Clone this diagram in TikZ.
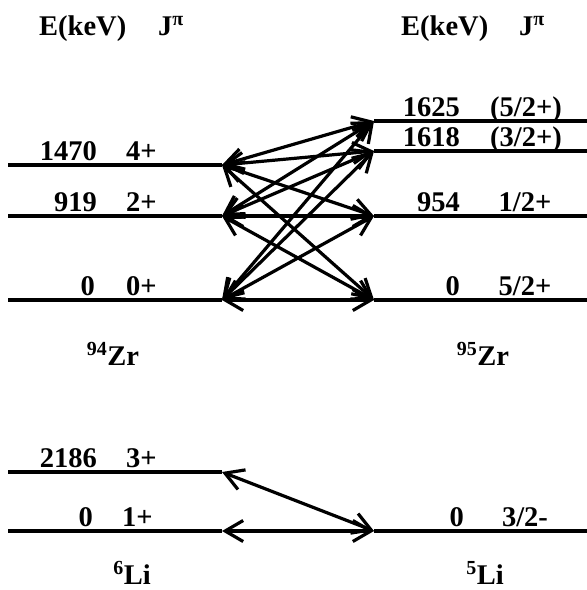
\documentclass[tikz,border=0pt]{standalone}
\usepackage{fontspec}
\setmainfont{Liberation Serif}
\usepackage{tikz}
\usetikzlibrary{arrows.meta}

\begin{document}
\begin{tikzpicture}[
    x=1pt, y=-1pt,
    font=\fontsize{28.5}{32}\selectfont\bfseries,
    garis/.style={line width=3.4pt},
    transisi/.style={{Straight Barb[length=18pt,width=21pt]}-{Straight Barb[length=18pt,width=21pt]},
                     line width=3.2pt},
    energi/.style={anchor=base east, inner sep=0pt},
    spin/.style={anchor=base west, inner sep=0pt},
    spinr/.style={anchor=base, inner sep=0pt},
    inti/.style={anchor=base, inner sep=0pt}
  ]
    \useasboundingbox (0,0) rectangle (587,590);
    % judul kolom
    \node[anchor=base west, inner sep=0pt] (judulE) at (39,35) {E(keV)};
    \node[anchor=base west, inner sep=0pt] (judulJ) at (158,35) {J\textsuperscript{π}};
    \node[anchor=base west, inner sep=0pt] (judulE2) at (401,35) {E(keV)};
    \node[anchor=base west, inner sep=0pt] (judulJ2) at (519,35) {J\textsuperscript{π}};
    % tingkat 94Zr
    \coordinate (zrA1470a) at (8,165);  \coordinate (zrA1470) at (222,165);
    \coordinate (zrA919a) at (8,216);   \coordinate (zrA919) at (222,216);
    \coordinate (zrA0a) at (8,300);     \coordinate (zrA0) at (222,300);
    \draw[garis] (zrA1470a) -- (zrA1470);
    \draw[garis] (zrA919a) -- (zrA919);
    \draw[garis] (zrA0a) -- (zrA0);
    \node[energi] (eA1470) at (97,160) {1470};
    \node[spin] (jA1470) at (126,160) {4+};
    \node[energi] (eA919) at (97,211) {919};
    \node[spin] (jA919) at (126,211) {2+};
    \node[energi] (eA0) at (95,295) {0};
    \node[spin] (jA0) at (126,295) {0+};
    % tingkat 95Zr
    \coordinate (zrB1625) at (374,121); \coordinate (zrB1625b) at (587,121);
    \coordinate (zrB1618) at (374,151); \coordinate (zrB1618b) at (587,151);
    \coordinate (zrB954) at (374,216);  \coordinate (zrB954b) at (587,216);
    \coordinate (zrB0) at (374,300);    \coordinate (zrB0b) at (587,300);
    \draw[garis] (zrB1625) -- (zrB1625b);
    \draw[garis] (zrB1618) -- (zrB1618b);
    \draw[garis] (zrB954) -- (zrB954b);
    \draw[garis] (zrB0) -- (zrB0b);
    \node[energi] (eB1625) at (460,116) {1625};
    \node[spinr] (jB1625) at (526,116) {(5/2+)};
    \node[energi] (eB1618) at (460,146) {1618};
    \node[spinr] (jB1618) at (526,146) {(3/2+)};
    \node[energi] (eB954) at (460,211) {954};
    \node[spinr] (jB954) at (525,211) {1/2+};
    \node[energi] (eB0) at (460,295) {0};
    \node[spinr] (jB0) at (525,295) {5/2+};
    % transisi Zr
    \draw[transisi] (zrA1470) -- (zrB1625);
    \draw[transisi] (zrA1470) -- (zrB1618);
    \draw[transisi] (zrA1470) -- (zrB954);
    \draw[transisi] (zrA1470) -- (zrB0);
    \draw[transisi] (zrA919) -- (zrB1625);
    \draw[transisi] (zrA919) -- (zrB1618);
    \draw[transisi] (zrA919) -- (zrB954);
    \draw[transisi] (zrA919) -- (zrB0);
    \draw[transisi] (zrA0) -- (zrB1625);
    \draw[transisi] (zrA0) -- (zrB1618);
    \draw[transisi] (zrA0) -- (zrB954);
    \draw[transisi] (zrA0) -- (zrB0);
    \node[inti] (zr94) at (113,365) {\textsuperscript{94}Zr};
    \node[inti] (zr95) at (483,365) {\textsuperscript{95}Zr};
    % tingkat Li
    \coordinate (liA2186a) at (8,472);  \coordinate (liA2186) at (222,472);
    \coordinate (liA0a) at (8,531);     \coordinate (liA0) at (222,531);
    \coordinate (liB0) at (374,531);    \coordinate (liB0b) at (587,531);
    \draw[garis] (liA2186a) -- (liA2186);
    \draw[garis] (liA0a) -- (liA0);
    \draw[garis] (liB0) -- (liB0b);
    \node[energi] (eL2186) at (97,467) {2186};
    \node[spin] (jL2186) at (126,467) {3+};
    \node[energi] (eL0) at (93,526) {0};
    \node[spin] (jL0) at (122,526) {1+};
    \node[energi] (eL5) at (464,526) {0};
    \node[spinr] (jL5) at (525,526) {3/2-};
    \draw[transisi] (liA2186) -- (liB0);
    \draw[transisi] (liA0) -- (liB0);
    \node[inti] (li6) at (132,584) {\textsuperscript{6}Li};
    \node[inti] (li5) at (485,584) {\textsuperscript{5}Li};
  \end{tikzpicture}
\end{document}
